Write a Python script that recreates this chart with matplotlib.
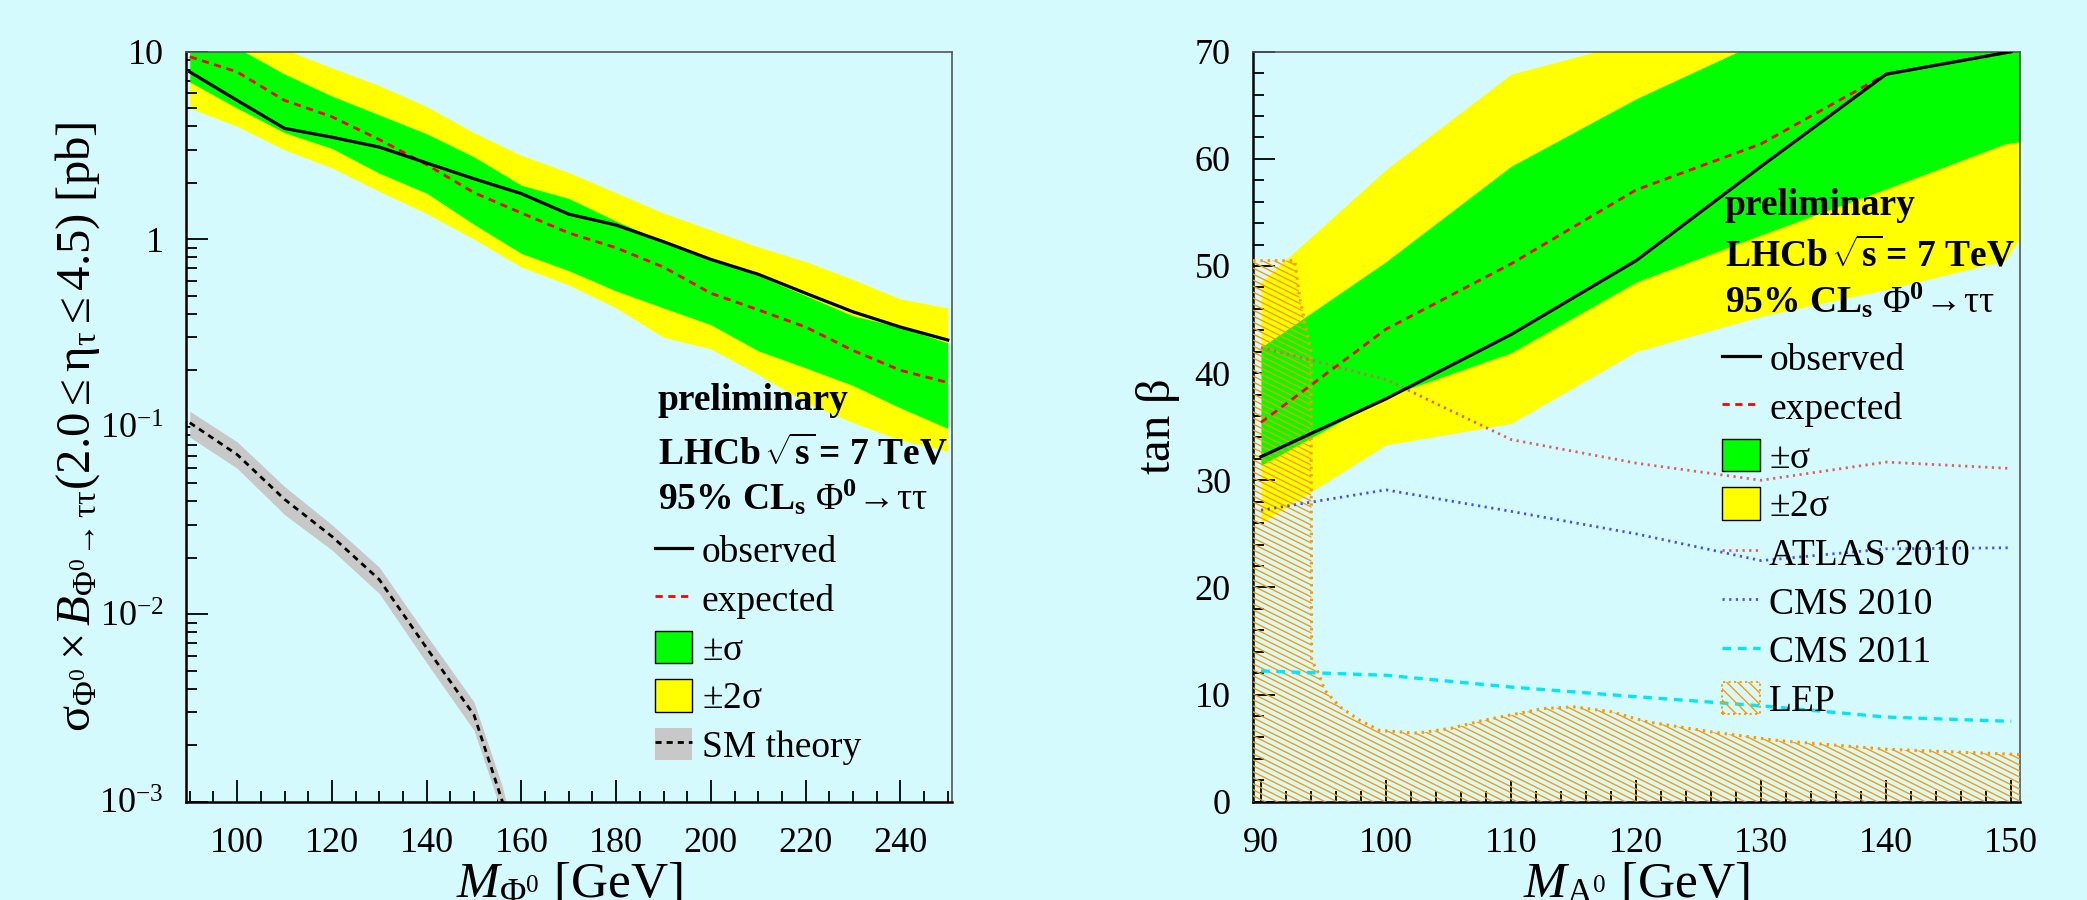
import numpy as np
import matplotlib
matplotlib.use("Agg")
import matplotlib.pyplot as plt
from matplotlib.collections import LineCollection
from matplotlib.lines import Line2D
from matplotlib.patches import Patch
from matplotlib.ticker import FixedLocator, MultipleLocator, LogLocator, FixedFormatter, NullFormatter

plt.rcParams['font.family'] = ['Liberation Serif', 'DejaVu Serif']
plt.rcParams['mathtext.fontset'] = 'custom'
plt.rcParams['mathtext.rm'] = 'Liberation Serif'
plt.rcParams['mathtext.it'] = 'Liberation Serif:italic'
plt.rcParams['mathtext.bf'] = 'Liberation Serif:bold'
plt.rcParams['mathtext.default'] = 'rm'

BG = '#d5fafe'
GREEN = '#00ff00'
YELLOW = '#ffff00'
ORANGE = '#ff9900'

# ---- left panel: cross-section limit vs mass ----
mass_l = [90, 100, 110, 120, 130, 140, 150, 160, 170, 180, 190, 200, 210, 220, 230, 240, 250]
obs_l = [7.8, 5.5, 3.9, 3.5, 3.1, 2.55, 2.1, 1.75, 1.36, 1.19, 0.97, 0.78, 0.65, 0.515, 0.41, 0.34, 0.29]
exp_l = [9.4, 7.8, 5.5, 4.5, 3.4, 2.5, 1.77, 1.38, 1.08, 0.9, 0.71, 0.515, 0.42, 0.34, 0.255, 0.2, 0.172]
s1_hi_l = [13, 10.5, 7.6, 5.8, 4.6, 3.65, 2.75, 1.94, 1.65, 1.25, 0.97, 0.79, 0.64, 0.5, 0.39, 0.34, 0.28]
s1_lo_l = [6.9, 5.0, 3.7, 3.05, 2.25, 1.76, 1.2, 0.84, 0.68, 0.53, 0.43, 0.35, 0.254, 0.206, 0.166, 0.126, 0.098]
s2_hi_l = [25, 17, 10.3, 8.2, 6.6, 5.1, 3.7, 2.8, 2.27, 1.77, 1.38, 1.12, 0.91, 0.76, 0.61, 0.48, 0.43]
s2_lo_l = [5.0, 4.0, 3.0, 2.4, 1.8, 1.37, 1.0, 0.71, 0.57, 0.43, 0.3, 0.26, 0.19, 0.135, 0.105, 0.085, 0.074]

mass_sm = [90, 100, 110, 120, 130, 140, 150, 156, 157]
sm = [0.105, 0.071, 0.041, 0.026, 0.0153, 0.0066, 0.0029, 0.001, 0.0008]
sm_hi = [0.121, 0.083, 0.048, 0.030, 0.0178, 0.0077, 0.0034, 0.0012, 0.00095]
sm_lo = [0.088, 0.060, 0.034, 0.022, 0.0129, 0.0055, 0.0024, 0.00085, 0.00067]

# ---- right panel: tan(beta) limit vs M_A ----
mass_r = [90, 100, 110, 120, 130, 140, 150]
obs_r = [32.2, 37.6, 43.6, 50.5, 59.3, 67.9, 70.0]
exp_r = [35.4, 44.1, 50.2, 57.1, 61.4, 67.9, 70.0]
band_mass_r = [90, 100, 110, 120, 130, 140, 149.5, 150.7]
s1_hi_r = [42.4, 50.4, 59.3, 65.6, 71, 75, 78, 78]
s1_lo_r = [31.4, 37.8, 41.9, 48.5, 52.9, 57.2, 61.4, 61.6]
s2_hi_r = [48.5, 59, 67.9, 71, 74, 78, 80, 80]
s2_lo_r = [26.0, 33.3, 35.3, 42.0, 45.3, 47.8, 50.5, 52.6]

atlas_r = [42.4, 39.4, 33.8, 31.6, 30.0, 31.7, 31.1]
cms10_r = [27.2, 29.1, 27.1, 25.0, 22.5, 23.6, 23.7]
cms11_r = [12.2, 11.8, 10.7, 9.8, 8.95, 7.9, 7.5]

lep_mass = [89.36, 92.7, 93.1, 94.0, 94.05, 94.6, 95.1, 96.3, 97.9, 99.5, 102.5, 105.2,
            107.8, 112.6, 115.0, 118.0, 120.9, 126.1, 131.4, 140.0, 150.7]
lep_tanb = [50.5, 50.5, 47.0, 42.0, 13.2, 12.0, 10.4, 8.85, 7.6, 6.65, 6.4, 6.85,
            7.6, 8.7, 8.85, 8.4, 7.45, 6.5, 5.7, 4.9, 4.4]

fig = plt.figure(figsize=(20.87, 9), dpi=100)
fig.patch.set_facecolor(BG)

ax1 = fig.add_axes([186 / 2087, 1 - 801.7 / 900, 766 / 2087, 750 / 900], facecolor=BG)
ax2 = fig.add_axes([1253 / 2087, 1 - 801.7 / 900, 767 / 2087, 750 / 900], facecolor=BG)


def style_axes(ax):
    ax.tick_params(which='both', direction='in', top=False, right=False,
                   labelsize=26, width=1.3)
    ax.tick_params(axis='x', which='both', pad=18)
    ax.tick_params(axis='y', which='both', pad=16)
    ax.tick_params(which='major', length=16)
    ax.tick_params(which='minor', length=8)
    for s in ['left', 'bottom']:
        ax.spines[s].set_linewidth(1.8)
    for s in ['top', 'right']:
        ax.spines[s].set_linewidth(1.2)
        ax.spines[s].set_color('#555555')


red_dash = (0, (2.6, 2.0))
dots = (0, (0.8, 1.6))

# left panel
ax1.fill_between(mass_l, s2_lo_l, s2_hi_l, color=YELLOW, lw=0, zorder=1)
ax1.fill_between(mass_l, s1_lo_l, s1_hi_l, color=GREEN, lw=0, zorder=2)
ax1.fill_between(mass_sm, sm_lo, sm_hi, color='#c8c8c8', lw=0, zorder=2)
ax1.plot(mass_sm, sm, color='black', lw=2.0, ls=(0, (2.2, 1.8)), zorder=3)
ax1.plot(mass_l, exp_l, color='red', lw=2.0, ls=red_dash, zorder=4)
ax1.plot(mass_l, obs_l, color='black', lw=2.3, zorder=5)
ax1.set_yscale('log')
ax1.set_xlim(89.2, 250.9)
ax1.set_ylim(1e-3, 10)
ax1.xaxis.set_major_locator(MultipleLocator(20))
ax1.xaxis.set_minor_locator(MultipleLocator(5))
ax1.yaxis.set_major_locator(FixedLocator([1e-3, 1e-2, 1e-1, 1, 10]))
ax1.yaxis.set_major_formatter(FixedFormatter(['10$^{-3}$', '10$^{-2}$', '10$^{-1}$', '1', '10']))
ax1.yaxis.set_minor_locator(LogLocator(base=10, subs=np.arange(2, 10)))
ax1.yaxis.set_minor_formatter(NullFormatter())
style_axes(ax1)
ax1.set_ylabel(r'$\sigma_{\Phi^0} \times \mathit{B}_{\Phi^0\!\rightarrow\tau\tau}(2.0 \leq \eta_\tau \leq 4.5)$ [pb]',
               fontsize=35, va='baseline')
ax1.yaxis.set_label_coords(-0.126, 0.5)
ax1.set_xlabel(r'$\mathit{M}_{\Phi^0}$ [GeV]', fontsize=37)
ax1.xaxis.set_label_coords(0.5, -0.080)

# right panel
ax2.fill_between(band_mass_r, s2_lo_r, s2_hi_r, color=YELLOW, lw=0, zorder=1)
ax2.fill_between(band_mass_r, s1_lo_r, s1_hi_r, color=GREEN, lw=0, zorder=2)
lep_poly = ax2.fill_between(lep_mass, 0, lep_tanb, facecolor='none', edgecolor='none', zorder=3)
# slanted hatch lines, clipped to the LEP excluded region
step = 12 / 767 * 0.511
segs = [[(0, c), (1, c - 0.511)] for c in np.arange(0, 1.6, step)]
hatch = LineCollection(segs, colors=ORANGE, linewidths=1.0, transform=ax2.transAxes, zorder=3)
ax2.add_collection(hatch)
hatch.set_clip_path(lep_poly.get_paths()[0], ax2.transData)
ax2.plot(lep_mass, lep_tanb, color=ORANGE, lw=2.2, ls=dots, zorder=3)
ax2.plot(mass_r, atlas_r, color='#e06060', lw=2.0, ls=dots, zorder=4)
ax2.plot(mass_r, cms10_r, color='#5050e0', lw=2.0, ls=dots, zorder=4)
ax2.plot(mass_r, cms11_r, color='#00e8f8', lw=2.4, ls=red_dash, zorder=4)
ax2.plot(mass_r, exp_r, color='red', lw=2.0, ls=red_dash, zorder=5)
ax2.plot(mass_r, obs_r, color='black', lw=2.3, zorder=6)
ax2.set_xlim(89.36, 150.7)
ax2.set_ylim(0, 70)
ax2.xaxis.set_major_locator(MultipleLocator(10))
ax2.xaxis.set_minor_locator(MultipleLocator(2))
ax2.yaxis.set_major_locator(MultipleLocator(10))
ax2.yaxis.set_minor_locator(MultipleLocator(2))
style_axes(ax2)
ax2.set_ylabel(r'tan $\beta$', fontsize=35)
ax2.yaxis.set_label_coords(-0.093, 0.5)
ax2.set_xlabel(r'$\mathit{M}_{A^0}$ [GeV]', fontsize=37)
ax2.xaxis.set_label_coords(0.5, -0.080)

# headers and legends
headers = ['preliminary', r'LHCb $\!\sqrt{\mathbf{s}}\!$ = 7 TeV',
           r'95% CL$_\mathbf{s}$ $\Phi^\mathbf{0}\!\rightarrow\!\tau\tau$']
for ax, x0, ys in [(ax1, 0.616, [0.522, 0.449, 0.389]), (ax2, 0.615, [0.782, 0.714, 0.652])]:
    for txt, y in zip(headers, ys):
        ax.text(x0, y, txt, transform=ax.transAxes, fontsize=27, fontweight='bold',
                va='baseline', ha='left', zorder=10)

h_obs = Line2D([], [], color='black', lw=2.3)
h_exp = Line2D([], [], color='red', lw=2.0, ls=red_dash)
h_s1 = Patch(facecolor=GREEN, edgecolor='black', lw=1.0)
h_s2 = Patch(facecolor=YELLOW, edgecolor='black', lw=1.0)
h_sm = (Patch(facecolor='#c8c8c8', edgecolor='none'), Line2D([], [], color='black', lw=2.0, ls=(0, (2.2, 1.8))))
h_atlas = Line2D([], [], color='#e06060', lw=2.0, ls=dots)
h_cms10 = Line2D([], [], color='#5050e0', lw=2.0, ls=dots)
h_cms11 = Line2D([], [], color='#00e8f8', lw=2.4, ls=red_dash)
h_lep = Patch(facecolor='none', edgecolor=ORANGE, hatch='\\\\\\', ls=':', lw=1.5)

leg_kw = dict(loc='upper left', frameon=False, fontsize=27, handlelength=1.0, handleheight=0.95,
              handletextpad=0.25, labelspacing=0.31, borderpad=0, borderaxespad=0)
ax1.legend([h_obs, h_exp, h_s1, h_s2, h_sm],
           ['observed', 'expected', r'$\pm\sigma$', r'$\pm2\sigma$', 'SM theory'],
           bbox_to_anchor=(0.612, 0.358), **leg_kw).set_zorder(10)
ax2.legend([h_obs, h_exp, h_s1, h_s2, h_atlas, h_cms10, h_cms11, h_lep],
           ['observed', 'expected', r'$\pm\sigma$', r'$\pm2\sigma$', 'ATLAS 2010', 'CMS 2010', 'CMS 2011', 'LEP'],
           bbox_to_anchor=(0.612, 0.614), **leg_kw).set_zorder(10)

fig.savefig('out.png', dpi=100, facecolor=BG)
